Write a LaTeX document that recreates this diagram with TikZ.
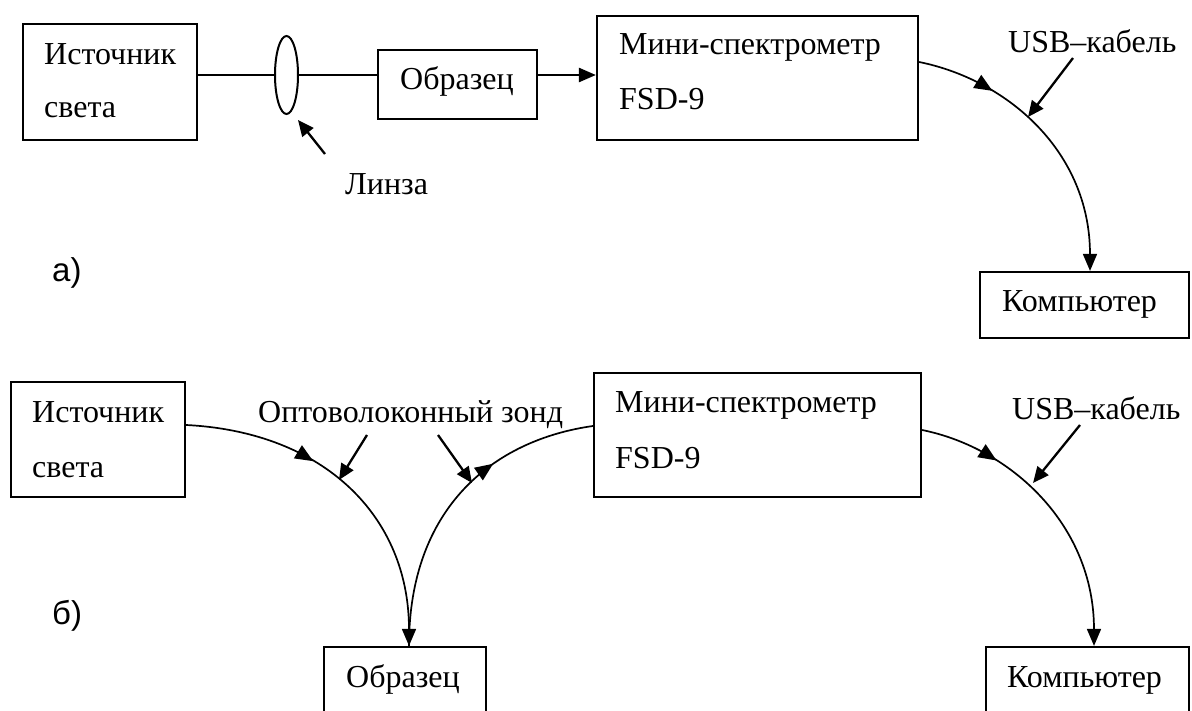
\documentclass[tikz,border=0pt]{standalone}
\usepackage{fontspec}
\setmainfont{Liberation Serif}
\setsansfont{Liberation Sans}
\usetikzlibrary{arrows.meta,decorations.markings,shapes.geometric}
\begin{document}
\begin{tikzpicture}[x=1pt,y=-1pt,
  box/.style={draw,line width=2.2pt,inner sep=0pt,rectangle},
  txt/.style={anchor=base west,inner sep=0pt,font=\fontsize{32}{38}\selectfont},
  lbl/.style={anchor=base west,inner sep=0pt,font=\sffamily\fontsize{33}{40}\selectfont},
  tip/.style={-{Triangle[length=17pt,width=14pt]}},
  fiber/.style={line width=1.7pt},
  pointer/.style={line width=2.3pt,-{Triangle[length=16pt,width=14pt]}},
  beam/.style={line width=2.5pt},
  midarrow/.style={postaction={decorate},decoration={markings,mark=at position #1 with {\arrow{Triangle[length=18pt,width=15pt]}}}}
]
\useasboundingbox (0,0) rectangle (1192,711);

% ---------- a) ----------
\node[box,minimum width=174pt,minimum height=116pt] (src1) at (110,82) {};
\node[txt] (src1a) at (44,65) {Источник};
\node[txt] (src1b) at (44,118) {света};
\node[draw,ellipse,line width=2pt,minimum width=23pt,minimum height=78pt,inner sep=0pt] (lens) at (286.5,75) {};
\node[box,minimum width=159pt,minimum height=69pt] (obr1) at (457.5,84.5) {};
\node[txt] (obr1t) at (400,90) {Образец};
\node[box,minimum width=321pt,minimum height=124pt] (spec1) at (757.5,78) {};
\node[txt] (spec1a) at (619,55) {Мини-спектрометр};
\node[txt] (spec1b) at (619,110) {FSD-9};
\node[box,minimum width=209pt,minimum height=66pt] (comp1) at (1084.5,305) {};
\node[txt] (comp1t) at (1002,312) {Компьютер};
\node[txt] (lensl) at (345,195) {Линза};
\node[txt] (usb1) at (1008,53) {USB–кабель};
\node[lbl] (la) at (52,282) {а)};

\draw[beam] (src1.east |- lens.west) -- (lens.west);
\draw[beam] (lens.east) -- (lens.east -| obr1.west);
\draw[beam,tip] (obr1.east |- lens.east) -- (spec1.west |- lens.east);
\coordinate (lt) at (325,154);
\coordinate (lh) at (298,120);
\draw[pointer] (lt) -- (lh);
\draw[fiber,midarrow=0.27,tip] ([yshift=16pt]spec1.east) .. controls (1008,80) and (1090,152) .. ([xshift=5.5pt]comp1.north);
\coordinate (ut1) at (1073,58);
\coordinate (uh1) at (1028,117);
\draw[pointer] (ut1) -- (uh1);

% ---------- б) ----------
\node[box,minimum width=174pt,minimum height=115pt] (src2) at (98,439.5) {};
\node[txt] (src2a) at (32,422) {Источник};
\node[txt] (src2b) at (32,477) {света};
\node[box,minimum width=327pt,minimum height=124pt] (spec2) at (757.5,435) {};
\node[txt] (spec2a) at (615,413) {Мини-спектрометр};
\node[txt] (spec2b) at (615,468) {FSD-9};
\node[box,minimum width=162pt,minimum height=80pt] (obr2) at (405,687) {};
\node[txt] (obr2t) at (346,687) {Образец};
\node[box,minimum width=203pt,minimum height=80pt] (comp2) at (1087.5,687) {};
\node[txt] (comp2t) at (1007,687) {Компьютер};
\node[txt] (probe) at (258,422) {Оптоволоконный зонд};
\node[txt] (usb2) at (1012,419) {USB–кабель};
\node[lbl] (lb) at (52,624) {б)};

\draw[fiber,midarrow=0.38,tip] ([yshift=14.5pt]src2.east) .. controls (325,432) and (409,517) .. ([xshift=4pt]obr2.north);
\draw[fiber,midarrow=0.66] ([xshift=4pt]obr2.north) .. controls (409,507) and (494,440) .. ([yshift=9pt]spec2.west);
\draw[fiber,midarrow=0.27,tip] ([yshift=5pt]spec2.east) .. controls (1011,448) and (1094,525) .. ([xshift=6.5pt]comp2.north);
\coordinate (ot1) at (367,435);
\coordinate (oh1) at (339,480);
\draw[pointer] (ot1) -- (oh1);
\coordinate (ot2) at (438,435);
\coordinate (oh2) at (472,483);
\draw[pointer] (ot2) -- (oh2);
\coordinate (ut2) at (1080,425);
\coordinate (uh2) at (1033,483);
\draw[pointer] (ut2) -- (uh2);
\end{tikzpicture}
\end{document}
